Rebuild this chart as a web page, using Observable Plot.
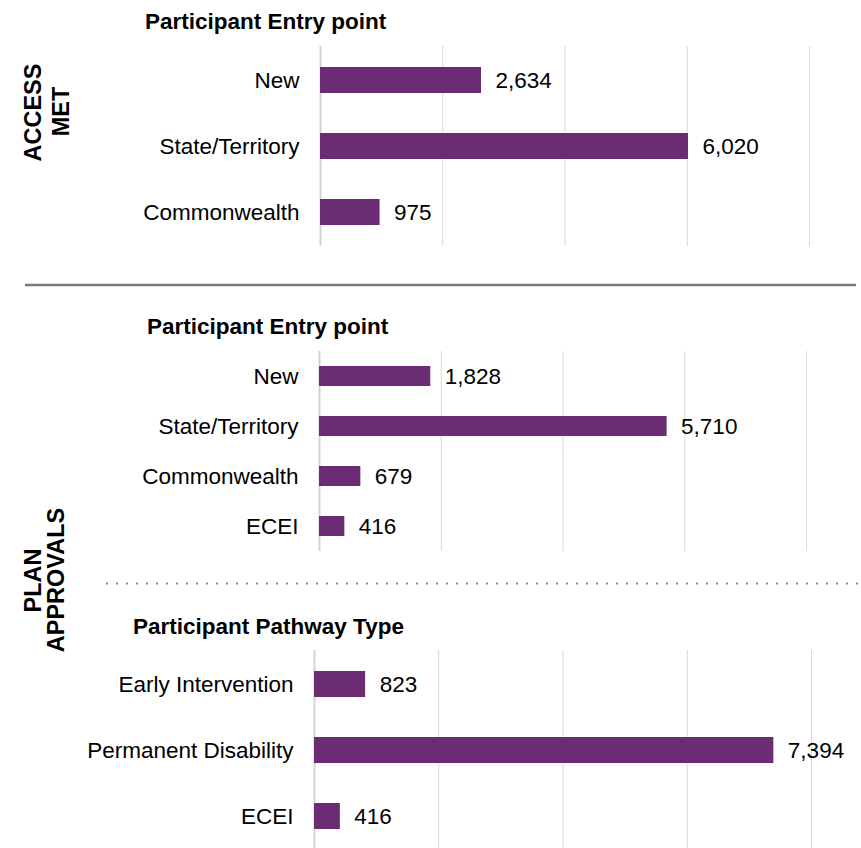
<!DOCTYPE html>
<html>
<head>
<meta charset="utf-8">
<script src="https://cdn.jsdelivr.net/npm/d3@7"></script>
<script src="https://cdn.jsdelivr.net/npm/@observablehq/plot@0.6"></script>
<style>
  html, body { margin: 0; padding: 0; background: #fff; }
  #wrap { position: relative; width: 861px; height: 848px; overflow: hidden; font-family: "Liberation Sans", Arial, sans-serif; }
  #wrap > svg, #wrap > figure { position: absolute; left: 0; margin: 0; }
</style>
</head>
<body>
<div id="wrap"></div>
<script>
// ---- data ----
const accessCats = ["New", "State/Territory", "Commonwealth"];
const accessVals = [2634, 6020, 975];

const planEntryCats = ["New", "State/Territory", "Commonwealth", "ECEI"];
const planEntryVals = [1828, 5710, 679, 416];

const pathwayCats = ["Early Intervention", "Permanent Disability", "ECEI"];
const pathwayVals = [823, 7394, 416];

const gridTicks = [2000, 4000, 6000, 8000];
const xMax = 8000;

const panelTitles = ["Participant Entry point", "Participant Entry point", "Participant Pathway Type"];
const sectionLabels = [["ACCESS", "MET"], ["PLAN", "APPROVALS"]];

// ---- drawing ----
const FONT = "'Liberation Sans', Arial, sans-serif";
const PURPLE = "#6b2c73";
const fmt = d3.format(",");
const wrap = document.getElementById("wrap");

function panel(cats, vals, {top, left, right, height}) {
  const data = cats.map((c, i) => ({cat: c, value: vals[i]}));
  const chart = Plot.plot({
    width: 861,
    height,
    marginTop: 0,
    marginBottom: 0,
    marginLeft: left,
    marginRight: 861 - right,
    style: {fontFamily: FONT, fontSize: "22.5px", color: "#000", background: "transparent", overflow: "visible"},
    x: {domain: [0, xMax], axis: null},
    y: {domain: cats, padding: 0.6, paddingOuter: 0.3, label: null},
    marks: [
      Plot.ruleX(gridTicks, {stroke: "#d9d9d9", strokeWidth: 1}),
      Plot.ruleX([0], {stroke: "#d3d3d3", strokeWidth: 2}),
      Plot.barX(data, {x: "value", y: "cat", fill: PURPLE}),
      Plot.text(data, {x: "value", y: "cat", text: d => fmt(d.value), dx: 14, textAnchor: "start", fill: "#000", fontSize: 22.5}),
      Plot.axisY({tickSize: 0, tickPadding: 21, fontSize: 22.5, fill: "#000", label: null})
    ]
  });
  chart.style.top = top + "px";
  wrap.appendChild(chart);
}

panel(accessCats, accessVals, {top: 46, left: 320, right: 809, height: 200});
panel(planEntryCats, planEntryVals, {top: 351, left: 319, right: 806, height: 200});
panel(pathwayCats, pathwayVals, {top: 650, left: 314, right: 811, height: 200});

// ---- overlay: titles, section labels, separators ----
const ov = d3.create("svg")
  .attr("width", 861).attr("height", 848)
  .style("top", "0px").style("pointer-events", "none")
  .style("font-family", FONT);

const titlePos = [[145, 28.5], [147, 333.5], [133, 633.5]];
panelTitles.forEach((t, i) => {
  ov.append("text").attr("x", titlePos[i][0]).attr("y", titlePos[i][1])
    .attr("font-size", 22.5).attr("font-weight", "bold").attr("fill", "#000").text(t);
});

const labPos = [[[41, 112.5], [69, 111.5]], [[40.5, 580.5], [64, 580]]];
sectionLabels.forEach((lines, i) => {
  lines.forEach((l, j) => {
    const [x, y] = labPos[i][j];
    ov.append("text").attr("transform", `translate(${x},${y}) rotate(-90)`)
      .attr("text-anchor", "middle").attr("font-size", 23.5).attr("font-weight", "bold")
      .attr("fill", "#000").text(l);
  });
});

ov.append("line").attr("x1", 25).attr("x2", 856).attr("y1", 285).attr("y2", 285)
  .attr("stroke", "#7a7a7a").attr("stroke-width", 2.5);
ov.append("line").attr("x1", 106).attr("x2", 861).attr("y1", 583.5).attr("y2", 583.5)
  .attr("stroke", "#8a8a8a").attr("stroke-width", 2).attr("stroke-dasharray", "2 8");

wrap.appendChild(ov.node());
</script>
</body>
</html>
